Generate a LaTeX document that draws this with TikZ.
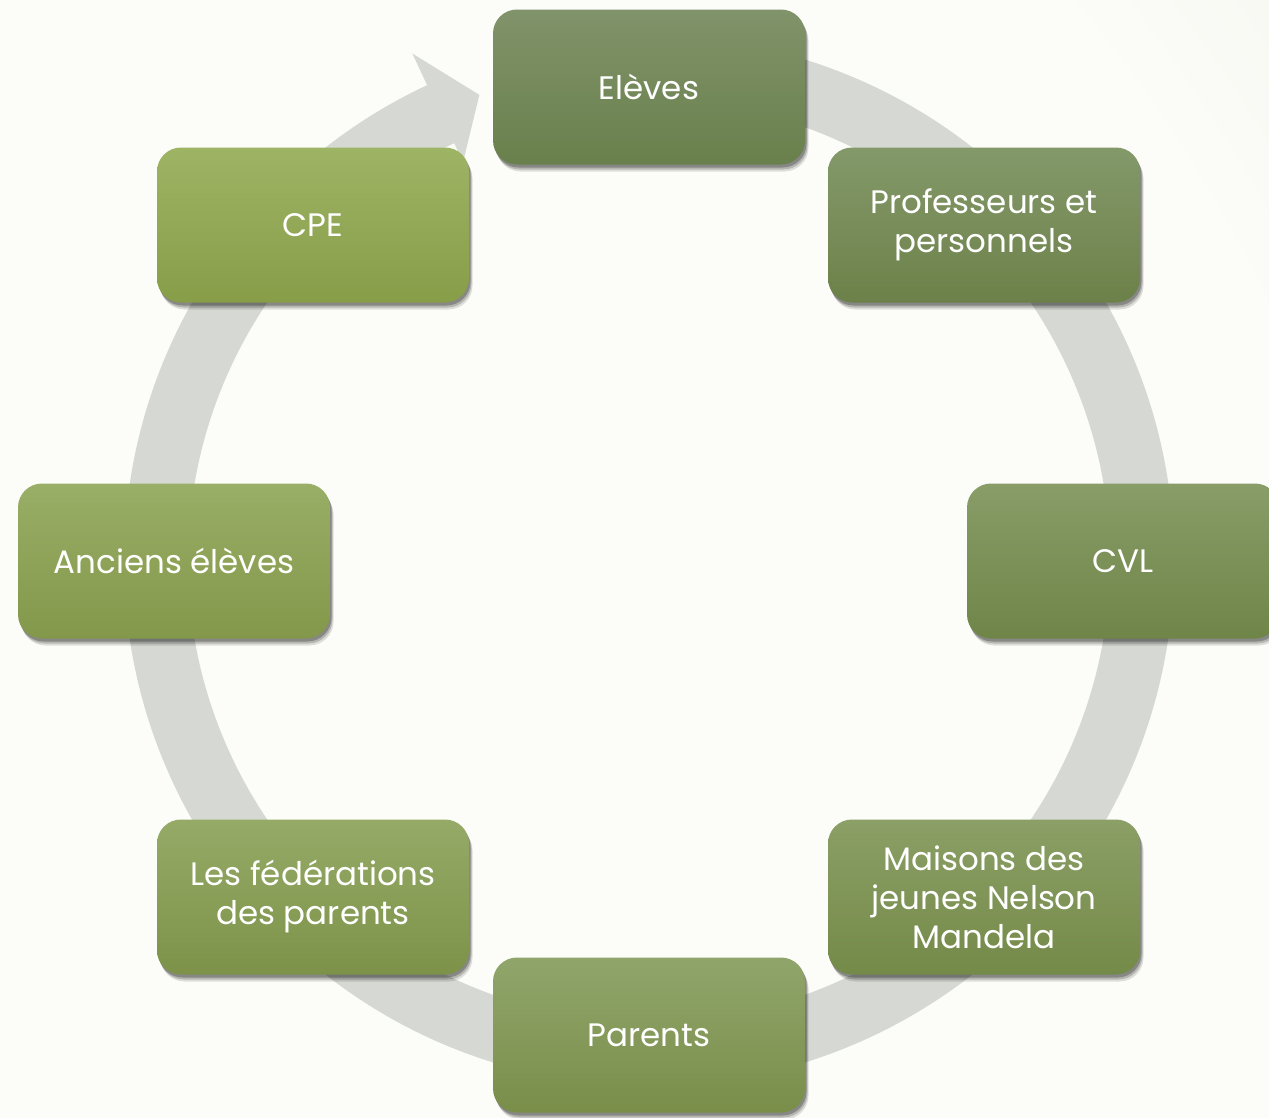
\documentclass[tikz,border=0pt]{standalone}
\usepackage{fontspec}
\setmainfont{Poppins}
\usetikzlibrary{shadows}
\definecolor{bgA}{HTML}{FCFCF9}
\definecolor{bgB}{HTML}{F2F5EA}
\definecolor{bgC}{HTML}{E3EACB}
\definecolor{bgD}{HTML}{DAE3BC}
\definecolor{ringgray}{HTML}{D6D9D3}
\definecolor{t1}{HTML}{81936A}\definecolor{b1}{HTML}{69804C}
\definecolor{t2}{HTML}{84996A}\definecolor{b2}{HTML}{6C8149}
\definecolor{t3}{HTML}{889D68}\definecolor{b3}{HTML}{6F8548}
\definecolor{t4}{HTML}{8B9F66}\definecolor{b4}{HTML}{748A48}
\definecolor{t5}{HTML}{90A56B}\definecolor{b5}{HTML}{7A8E4A}
\definecolor{t6}{HTML}{95AA67}\definecolor{b6}{HTML}{7D9248}
\definecolor{t7}{HTML}{99AE66}\definecolor{b7}{HTML}{83984A}
\definecolor{t8}{HTML}{9EB465}\definecolor{b8}{HTML}{889D48}
\pgfdeclareradialshading{bgshade}{\pgfpoint{0bp}{0bp}}{color(0bp)=(bgA); color(22bp)=(bgA); color(28.5bp)=(bgB); color(40bp)=(bgC); color(50bp)=(bgD)}
\tikzset{
  box/.style={rounded corners=24pt, minimum width=312pt, minimum height=155pt,
    align=center, font=\fontsize{32.5}{39}\selectfont, text=white,
    general shadow={shadow xshift=3.5pt, shadow yshift=-7pt, opacity=0.12, fill=black},
    general shadow={shadow xshift=2.5pt, shadow yshift=-5pt, opacity=0.18, fill=black},
    general shadow={shadow xshift=1.5pt, shadow yshift=-3pt, opacity=0.25, fill=black}},
}
\begin{document}
\begin{tikzpicture}[x=1pt,y=-1pt]
\useasboundingbox (0,0) rectangle (1269,1117);
\clip (0,0) rectangle (1269,1117);
% background
\fill[bgD] (0,0) rectangle (1269,1117);
\shade[shading=bgshade] (0,900) circle[radius=1570pt];
% ring arrow
\begin{scope}[shift={(649,561)}, x=1pt, y=1pt]
  \fill[ringgray] (85:525) arc[start angle=85, end angle=-245, radius=525]
    -- (-245:560) -- (-250:496) -- (-245:440) -- (-245:461)
    arc[start angle=-245, end angle=85, radius=461] -- cycle;
\end{scope}
% boxes
\node[box, top color=t1, bottom color=b1] (a1) at (649,87) {Elèves};
\node[box, top color=t2, bottom color=b2] (a2) at (984,225) {Professeurs et\\personnels};
\node[box, top color=t3, bottom color=b3] (a3) at (1123,561) {CVL};
\node[box, top color=t4, bottom color=b4] (a4) at (984,897) {Maisons des\\jeunes Nelson\\Mandela};
\node[box, top color=t5, bottom color=b5] (a5) at (649,1035) {Parents};
\node[box, top color=t6, bottom color=b6] (a6) at (313,897) {Les fédérations\\des parents};
\node[box, top color=t7, bottom color=b7] (a7) at (174,561) {Anciens élèves};
\node[box, top color=t8, bottom color=b8] (a8) at (313,225) {CPE};
\end{tikzpicture}
\end{document}
